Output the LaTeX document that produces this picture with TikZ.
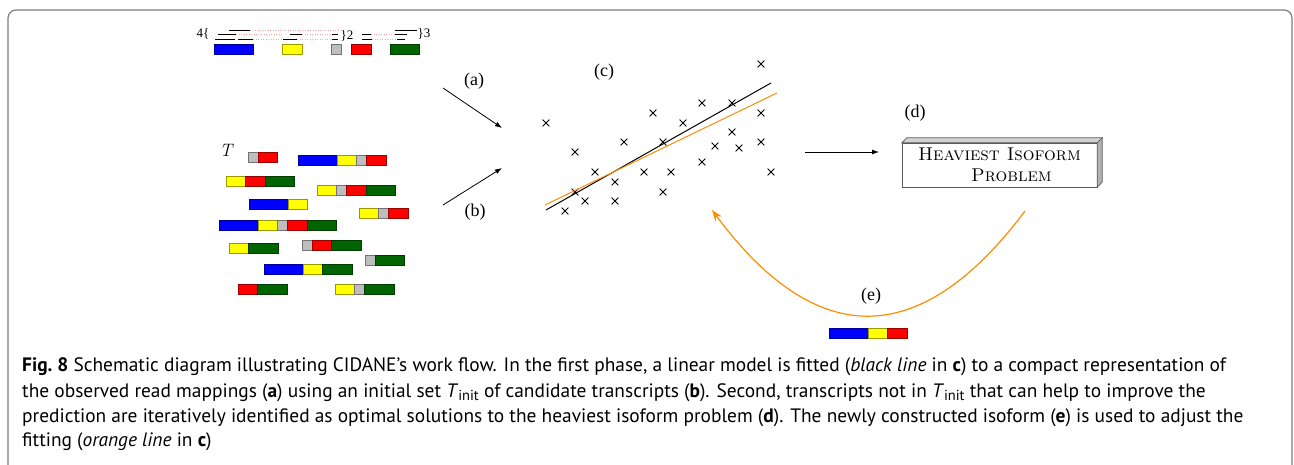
\documentclass[tikz,border=0pt]{standalone}
\usepackage{fontspec}
\newfontfamily\labfont{Liberation Serif}
\newfontfamily\capfont{PT Sans}
\usetikzlibrary{arrows.meta,shapes.misc}
\definecolor{exB}{RGB}{0,0,255}
\definecolor{exY}{RGB}{255,255,0}
\definecolor{exG}{RGB}{190,190,190}
\definecolor{exR}{RGB}{255,0,0}
\definecolor{exN}{RGB}{0,100,0}
\definecolor{orng}{RGB}{255,140,0}
\definecolor{pinkdot}{RGB}{255,165,165}
\definecolor{framec}{RGB}{125,125,125}
\def\wB{39}\def\wY{19.5}\def\wG{10}\def\wR{19.5}\def\wN{29.5}
\newcommand\trans[3]{\gdef\curx{#1}\foreach \c in {#3}{\pgfmathsetmacro\w{\csname w\c\endcsname}\path[exon=\c] (\curx,#2) rectangle ++(\w,10);\pgfmathsetmacro\nx{\curx+\w}\xdef\curx{\nx}}}
\tikzset{
 exon/.style={fill=ex#1, draw=ex#1!60!black, line width=0.8pt},
 lbl/.style={font=\labfont\fontsize{18}{18}\selectfont, inner sep=0pt},
 small/.style={font=\labfont\fontsize{13}{13}\selectfont, inner sep=0pt},
 xmark/.style={cross out, draw=black, minimum size=6pt, inner sep=0pt, line width=0.8pt},
 readln/.style={line width=0.9pt},
 gapln/.style={draw=pinkdot, line width=0.9pt, dash pattern=on 1pt off 1.5pt},
 arr/.style={-{Latex[length=7pt,width=5pt]}, line width=0.8pt},
 captext/.style={anchor=base west, inner sep=0pt, font=\capfont\fontsize{19.4}{23}\selectfont},
}
\begin{document}
\begin{tikzpicture}[x=1pt,y=-1pt]
\useasboundingbox (0,0) rectangle (1294,465);
% frame
\draw[framec, line width=1.2pt, rounded corners=8pt] (8,470) -- (8,10) -- (1292,10) -- (1292,470);

% ---- (a) read mappings
\node[small] (n4) at (203,34) {4\{};
\draw[readln] (229,30) -- (250,30);
\draw[gapln] (250,30) -- (340,30);
\draw[readln] (218,34.5) -- (236,34.5);
\draw[gapln] (236,34.5) -- (283,34.5);
\draw[readln] (290,34.5) -- (302,34.5);
\draw[gapln] (302,34.5) -- (331,34.5);
\draw[readln] (332,34.5) -- (338,34.5);
\draw[readln] (215,39) -- (235,39);
\draw[readln] (238,39) -- (253,39);
\draw[gapln] (253,39) -- (283,39);
\draw[readln] (283,39) -- (297,39);
\draw[gapln] (297,39) -- (331,39);
\draw[readln] (332,39) -- (338,39);
\node[small] (n2) at (347,36) {\}2};
\draw[readln] (395,30) -- (417,30);
\draw[readln] (362,34.5) -- (371,34.5);
\draw[gapln] (371,34.5) -- (395,34.5);
\draw[readln] (395,34.5) -- (407,34.5);
\draw[readln] (362,39) -- (372,39);
\draw[gapln] (372,39) -- (397,39);
\draw[readln] (397,39) -- (405,39);
\node[small] (n3) at (424,34) {\}3};
\path[exon=B] (214,44) rectangle (253,54);
\path[exon=Y] (282,44) rectangle (302,54);
\path[exon=G] (331,44) rectangle (341,54);
\path[exon=R] (351,44) rectangle (371,54);
\path[exon=N] (390,44) rectangle (419,54);

% ---- (b) transcripts
\node[lbl, font=\fontsize{18}{18}\selectfont\itshape] (T) at (226,150) {T};
\trans{248}{152}{G,R}
\trans{298}{155}{B,Y,G,R}
\trans{226}{176}{Y,R,N}
\trans{317}{185}{Y,G,R,N}
\trans{249}{199}{B,Y}
\trans{359}{208}{Y,G,R}
\trans{219}{220}{B,Y,G,R,N}
\trans{229}{243}{Y,N}
\trans{302}{240}{G,R,N}
\trans{365}{255}{G,N}
\trans{264}{264}{B,Y,N}
\trans{238}{284}{R,N}
\trans{335}{284}{Y,G,N}

% ---- arrows (a), (b)
\coordinate (a1) at (443,88); \coordinate (a2) at (502,128);
\draw[arr] (a1) -- (a2);
\node[lbl] (la) at (474,81) {(a)};
\coordinate (b1) at (443,205); \coordinate (b2) at (502,168);
\draw[arr] (b1) -- (b2);
\node[lbl] (lb) at (475,212) {(b)};

% ---- (c) scatter
\node[lbl] (lc) at (604,72) {(c)};
\foreach \x/\y [count=\i] in {761/64,546/123,653/113,702/103,732/103,761/113,683/123,575/152,624/142,663/142,732/132,715/146,739/148,761/142,702/162,595/172,644/172,671/172,771/172,615/182,575/192,663/192,585/201,615/201,565/211}
  \node[xmark] (p\i) at (\x,\y) {};
\coordinate (bl1) at (546,210); \coordinate (bl2) at (771,83);
\draw[line width=1pt] (bl1) -- (bl2);
\coordinate (ol1) at (545,205); \coordinate (ol2) at (777,93);
\draw[orng, line width=1pt] (ol1) -- (ol2);

% ---- arrow to (d)
\coordinate (cd1) at (805,152); \coordinate (cd2) at (879,152);
\draw[arr] (cd1) -- (cd2);

% ---- (d) box
\node[lbl] (ld) at (915,113) {(d)};
\node[draw=black!65, fill=white, minimum width=195pt, minimum height=44pt, inner sep=0pt, align=center, font=\fontsize{18.5}{21}\selectfont\scshape] (d) at (999.5,165)
  {Heaviest Isoform\\\hspace*{24pt}Problem};
\filldraw[fill=gray!35, draw=black!65, line width=0.6pt] (d.north west) -- ++(5,-5) -- ([shift={(5,-5)}]d.north east) -- (d.north east) -- cycle;
\filldraw[fill=gray!60, draw=black!65, line width=0.6pt] (d.north east) -- ++(5,-5) -- ([shift={(5,-5)}]d.south east) -- (d.south east) -- cycle;

% ---- (e) feedback
\coordinate (e1) at (1025,211); \coordinate (e2) at (712,210);
\draw[orng, line width=1.2pt, -{Stealth[length=11pt,width=8pt]}] (e1) .. controls (920,351) and (816,350) .. (e2);
\node[lbl] (le) at (871,296) {(e)};
\trans{829}{328}{B,Y,R}

% ---- caption
\node[captext] (c1) at (22,371) {\textbf{Fig.~8} Schematic diagram illustrating CIDANE’s work flow. In the first phase, a linear model is fitted (\textit{black line} in \textbf{c}) to a compact representation of};
\node[captext] (c2) at (22,397) {the observed read mappings (\textbf{a}) using an initial set \textit{T}\raisebox{-3.5pt}{\fontsize{14.5}{14.5}\selectfont init} of candidate transcripts (\textbf{b}). Second, transcripts not in \textit{T}\raisebox{-3.5pt}{\fontsize{14.5}{14.5}\selectfont init} that can help to improve the};
\node[captext] (c3) at (22,422) {prediction are iteratively identified as optimal solutions to the heaviest isoform problem (\textbf{d}). The newly constructed isoform (\textbf{e}) is used to adjust the};
\node[captext] (c4) at (22,446) {fitting (\textit{orange line} in \textbf{c})};
\end{tikzpicture}
\end{document}
